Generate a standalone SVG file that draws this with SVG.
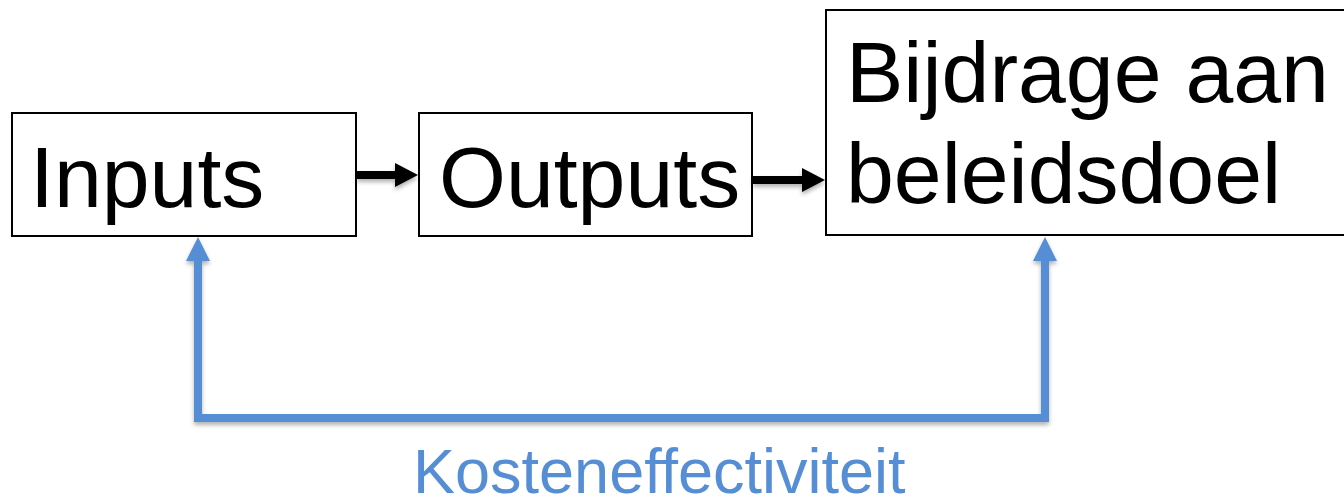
<svg xmlns="http://www.w3.org/2000/svg" width="1344" height="497" viewBox="0 0 1344 497">
<style>
.box{fill:#fff;stroke:#000;stroke-width:2}
.lbl{font-family:"Liberation Sans",Arial,sans-serif;font-size:86px;fill:#000}
.blk{stroke:#000;stroke-width:8;fill:none}
.blue{fill:none;stroke:#558ED5;stroke-width:8;stroke-linejoin:miter}
.cap{font-family:"Liberation Sans",Arial,sans-serif;font-size:63px;fill:#558ED5}
</style>
<defs>
<filter id="sh" filterUnits="userSpaceOnUse" x="0" y="0" width="1344" height="497">
<feDropShadow dx="0" dy="3" stdDeviation="2" flood-color="#000" flood-opacity="0.3"/>
</filter>
</defs>
<g id="inputs">
<rect class="box" x="12" y="113" width="344" height="123"/>
<text class="lbl" x="30" y="207">Inputs</text>
</g>
<g id="outputs">
<rect class="box" x="419" y="113" width="333" height="123"/>
<text class="lbl" x="439" y="207">Outputs</text>
</g>
<g id="bijdrage">
<rect class="box" x="826" y="10" width="530" height="225"/>
<text class="lbl" x="846" y="102">Bijdrage aan</text>
<text class="lbl" x="846" y="203">beleidsdoel</text>
</g>
<g id="connectors" filter="url(#sh)">
<line class="blk" x1="357" y1="175" x2="397" y2="175"/>
<path d="M395,163 L418,175 L395,187 Z" fill="#000"/>
<line class="blk" x1="753" y1="180" x2="804" y2="180"/>
<path d="M802,168 L825,180 L802,192 Z" fill="#000"/>
<polyline class="blue" points="198,258 198,418 1045,418 1045,258"/>
<path d="M186,261 L198,237 L210,261 Z" fill="#558ED5"/>
<path d="M1033,261 L1045,237 L1057,261 Z" fill="#558ED5"/>
</g>
<text class="cap" x="413" y="493">Kosteneffectiviteit</text>
</svg>
